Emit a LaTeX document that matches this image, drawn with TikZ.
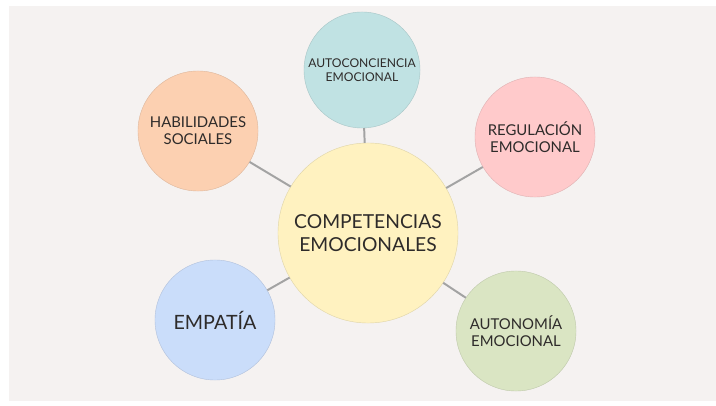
\documentclass[tikz,border=0pt]{standalone}
\usepackage{fontspec}
\setmainfont{Lato}
\definecolor{fondo}{HTML}{F5F2F1}
\definecolor{texto}{HTML}{2E2B2A}
\definecolor{linea}{HTML}{A3A3A3}
\definecolor{amarillo}{HTML}{FFF2C0}
\definecolor{turquesa}{HTML}{C0E2E3}
\definecolor{durazno}{HTML}{FCD0B1}
\definecolor{rosa}{HTML}{FFCACB}
\definecolor{celeste}{HTML}{CADDFA}
\definecolor{verde}{HTML}{DAE5C3}
\tikzset{
  bola/.style={circle, draw=#1!88!black, fill=#1, line width=0.3pt,
    minimum size=3cm, inner sep=0pt, align=center, text=texto,
    font=\fontsize{10.6}{12.2}\selectfont},
  enlace/.style={draw=linea, line width=1.4pt},
}
\begin{document}
\begin{tikzpicture}[x=0.025cm, y=-0.025cm]
 \useasboundingbox (0,0) rectangle (716,406);
 \fill[fondo] (9,6) rectangle (716,401);
 \node[bola=amarillo, minimum size=4.5cm, font=\fontsize{13.7}{16.5}\selectfont] (comp) at (368,233) {COMPETENCIAS\\EMOCIONALES};
 \node[bola=turquesa, minimum size=2.9cm, font=\fontsize{8.6}{9.6}\selectfont] (auto) at (362,70) {AUTOCONCIENCIA\\EMOCIONAL};
 \node[bola=durazno] (habi) at (198,131) {HABILIDADES\\SOCIALES};
 \node[bola=rosa] (regu) at (535,137) {REGULACIÓN\\EMOCIONAL};
 \node[bola=celeste, font=\fontsize{14}{16}\selectfont] (empa) at (215,320) {EMPATÍA};
 \node[bola=verde] (auton) at (516,331) {AUTONOMÍA\\EMOCIONAL};
 \draw[enlace] (comp) -- (auto);
 \draw[enlace] (comp) -- (habi);
 \draw[enlace] (comp) -- (regu);
 \draw[enlace] (comp) -- (empa);
 \draw[enlace] (comp) -- (auton);
\end{tikzpicture}
\end{document}
